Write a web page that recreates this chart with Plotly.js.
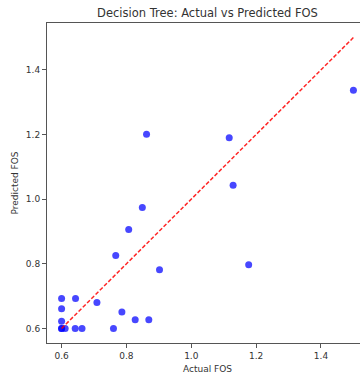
<!DOCTYPE html>
<html>
<head>
<meta charset="utf-8">
<script src="https://cdn.plot.ly/plotly-3.0.1.min.js"></script>
<style>
html, body { margin: 0; padding: 0; overflow: hidden; background: #fff; width: 360px; height: 374px; }
#chart { width: 370px; height: 374px; }
</style>
</head>
<body>
<div id="chart"></div>
<script>
// Actual vs predicted FOS values
const actualFOS = [1.500, 0.862, 1.117, 1.129, 0.849, 0.807, 0.767, 0.902, 1.177,
                   0.600, 0.643, 0.600, 0.709, 0.786, 0.600, 0.827, 0.869,
                   0.600, 0.600, 0.611, 0.642, 0.663, 0.760];
const predictedFOS = [1.337, 1.201, 1.190, 1.043, 0.974, 0.906, 0.826, 0.782, 0.797,
                      0.693, 0.693, 0.661, 0.680, 0.651, 0.622, 0.627, 0.627,
                      0.600, 0.600, 0.600, 0.600, 0.600, 0.600];
// Perfect-prediction reference line endpoints (min and max of the data)
const idealLine = [0.6, 1.5];
const xTicks = [0.6, 0.8, 1.0, 1.2, 1.4];
const yTicks = [0.6, 0.8, 1.0, 1.2, 1.4];

const font = { family: 'DejaVu Sans, sans-serif', color: '#333' };

const traces = [
  {
    x: actualFOS, y: predictedFOS, type: 'scatter', mode: 'markers',
    marker: { color: 'rgba(0,0,255,0.72)', size: 7, line: { width: 0 } },
    hoverinfo: 'x+y'
  },
  {
    x: idealLine, y: idealLine, type: 'scatter', mode: 'lines',
    line: { color: 'rgba(255,0,0,0.85)', width: 1.5, dash: '4px,2px' },
    hoverinfo: 'skip'
  }
];

const axisCommon = {
  showline: true, mirror: true, linecolor: '#555', linewidth: 1,
  showgrid: false, zeroline: false,
  ticks: 'outside', ticklen: 4, tickwidth: 1, tickcolor: '#555',
  tickfont: { family: font.family, size: 9, color: '#333' },
  tickformat: '.1f'
};

const layout = {
  width: 370, height: 374,
  margin: { l: 47, r: 2, t: 23, b: 31 },
  paper_bgcolor: '#fff', plot_bgcolor: '#fff',
  showlegend: false,
  font: font,
  title: {
    text: 'Decision Tree: Actual vs Predicted FOS',
    font: { family: font.family, size: 11.5, color: '#333' },
    x: 0.5, xref: 'paper', y: 1 - 13 / 374, yref: 'container', yanchor: 'middle'
  },
  xaxis: Object.assign({}, axisCommon, {
    range: [0.555, 1.545], tickvals: xTicks,
    title: { text: 'Actual FOS', font: { family: font.family, size: 9, color: '#333' }, standoff: 5 }
  }),
  yaxis: Object.assign({}, axisCommon, {
    range: [0.555, 1.545], tickvals: yTicks,
    title: { text: 'Predicted FOS', font: { family: font.family, size: 9, color: '#333' }, standoff: 5 }
  })
};

Plotly.newPlot('chart', traces, layout, { displayModeBar: false, staticPlot: true });
</script>
</body>
</html>
